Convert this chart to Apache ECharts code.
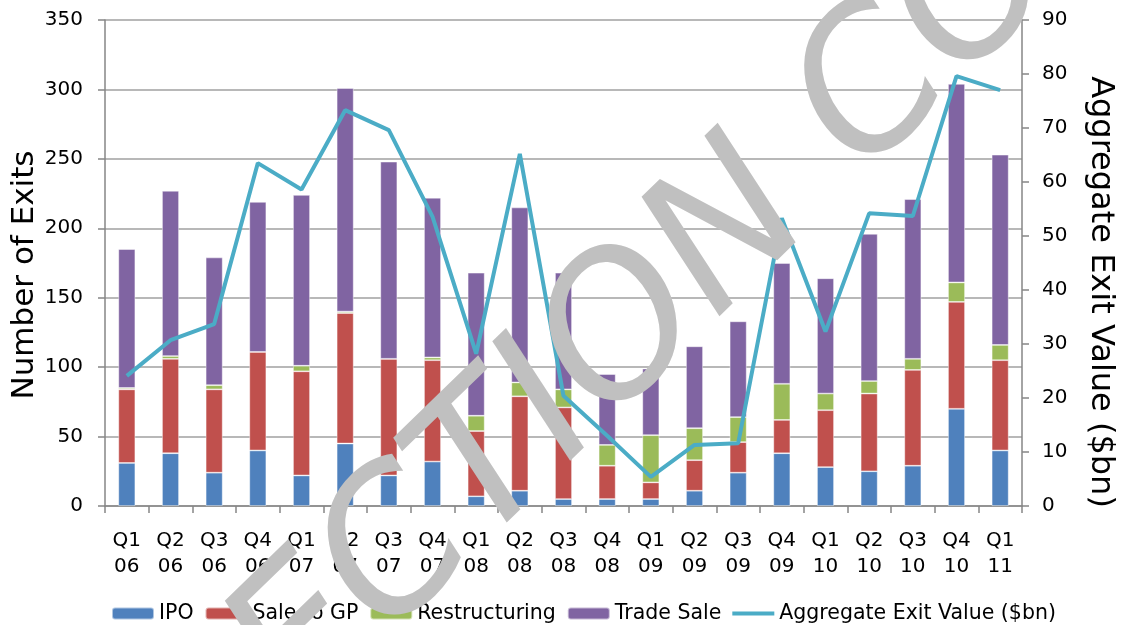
<!DOCTYPE html>
<html>
<head>
<meta charset="utf-8">
<script src="https://cdn.jsdelivr.net/npm/echarts@6/dist/echarts.min.js"></script>
<style>
  html, body { margin: 0; padding: 0; background: #fff; }
  #chart { width: 1129px; height: 625px; }
</style>
</head>
<body>
<div id="chart"></div>
<script>
/************************ chart data ************************/
var quarters = ['Q1\n06','Q2\n06','Q3\n06','Q4\n06','Q1\n07','Q2\n07','Q3\n07','Q4\n07',
                'Q1\n08','Q2\n08','Q3\n08','Q4\n08','Q1\n09','Q2\n09','Q3\n09','Q4\n09',
                'Q1\n10','Q2\n10','Q3\n10','Q4\n10','Q1\n11'];
var ipo           = [31, 38, 24, 40, 22, 45, 22, 32,  7, 11,  5,  5,  5, 11, 24, 38, 28, 25, 29, 70, 40];
var saleToGp      = [53, 68, 60, 71, 75, 94, 84, 73, 47, 68, 66, 24, 12, 22, 22, 24, 41, 56, 69, 77, 65];
var restructuring = [ 1,  2,  3,  0,  4,  1,  0,  2, 11, 10, 13, 15, 34, 23, 18, 26, 12,  9,  8, 14, 11];
var tradeSale     = [100, 119, 92, 108, 123, 161, 142, 115, 103, 126, 84, 51, 48, 59, 69, 87, 83, 106, 115, 143, 137];
var exitValue     = [24.1, 30.7, 33.7, 63.5, 58.6, 73.3, 69.6, 53.6, 28.2, 65.2, 20.4, 13.0, 5.4, 11.3, 11.6, 53.3, 32.3, 54.2, 53.7, 79.6, 77.0];

var font = 'DejaVu Sans';
var axisGrey = '#868686';

var chart = echarts.init(document.getElementById('chart'));

function barSer(name, data, color){
    return {
        name: name, type: 'bar', stack: 'exits', data: data, barWidth: 17,
        itemStyle: {color: color, borderColor: 'rgba(255,255,255,0.55)', borderWidth: 0.8}
    };
}

var opt = {
    animation: false,
    textStyle: {fontFamily: font, color: '#000'},
    grid: {left: 105, right: 107, top: 20, bottom: 119},
    legend: {
        left: 106, top: 598, itemWidth: 42, itemHeight: 12, itemGap: 11,
        textStyle: {fontFamily: font, fontSize: 20.5, color: '#000'},
        data: ['IPO', 'Sale to GP', 'Restructuring', 'Trade Sale',
               {name: 'Aggregate Exit Value ($bn)', icon: 'path://M0,0L42,0L42,4L0,4Z'}]
    },
    xAxis: {
        type: 'category', data: quarters,
        axisLine: {lineStyle: {color: axisGrey, width: 1.5}},
        axisTick: {show: true, length: 7, lineStyle: {color: axisGrey, width: 1.5}},
        axisLabel: {fontSize: 20, lineHeight: 26, margin: 22, color: '#000', interval: 0}
    },
    yAxis: [{
        type: 'value', min: 0, max: 350, interval: 50,
        axisLine: {show: true, lineStyle: {color: axisGrey, width: 1.5}},
        axisTick: {show: true, length: 7, lineStyle: {color: axisGrey, width: 1.5}},
        axisLabel: {fontSize: 20, margin: 22, color: '#000'},
        splitLine: {lineStyle: {color: '#a0a0a0', width: 1.5}}
    }, {
        type: 'value', min: 0, max: 90, interval: 10, position: 'right',
        axisLine: {show: true, lineStyle: {color: axisGrey, width: 1.5}},
        axisTick: {show: true, length: 7, lineStyle: {color: axisGrey, width: 1.5}},
        axisLabel: {fontSize: 20, margin: 20, color: '#000'},
        splitLine: {show: false}
    }],
    series: [
        barSer('IPO', ipo, '#4f81bd'),
        barSer('Sale to GP', saleToGp, '#c0504d'),
        barSer('Restructuring', restructuring, '#9bbb59'),
        barSer('Trade Sale', tradeSale, '#8064a2'),
        {
            name: 'Aggregate Exit Value ($bn)', type: 'line', yAxisIndex: 1, data: exitValue,
            symbol: 'none', z: 5,
            lineStyle: {color: '#4bacc6', width: 4}, itemStyle: {color: '#4bacc6'}
        }
    ],
    graphic: [
        // axis titles
        {type: 'text', x: 25, y: 275, rotation: Math.PI / 2,
         style: {text: 'Number of Exits', font: '31px ' + font, fill: '#000', align: 'center', verticalAlign: 'middle'}},
        {type: 'text', x: 1100, y: 292, rotation: -Math.PI / 2,
         style: {text: 'Aggregate Exit Value ($bn)', font: '32px ' + font, fill: '#000', align: 'center', verticalAlign: 'middle'}},
        // watermark across the chart
        {type: 'text', x: 553, y: 408, rotation: 0.77, z: 100,
         style: {text: 'COLLECTION COPY', font: 'italic 192px ' + font, fill: '#c0c0c0',
                 align: 'center', verticalAlign: 'middle'}}
    ]
};

chart.setOption(opt);
</script>
</body>
</html>
